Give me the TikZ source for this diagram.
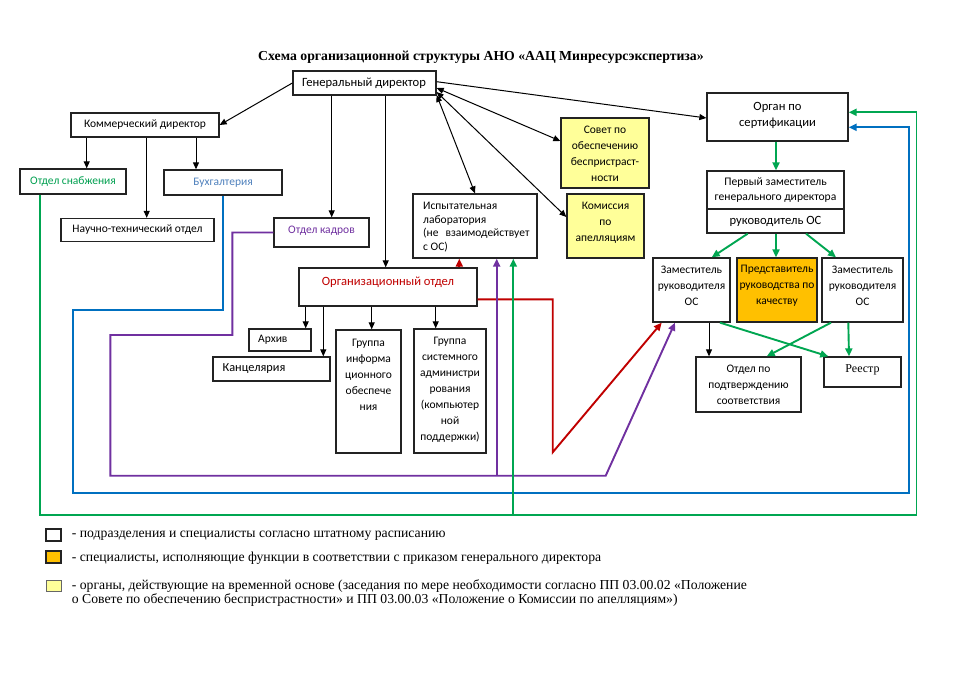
\documentclass[tikz,border=0pt]{standalone}
\usepackage{fontspec}
\setmainfont{Carlito}
\newfontfamily\tms{Liberation Serif}
\usetikzlibrary{arrows.meta}
\definecolor{cgreen}{RGB}{0,166,81}
\definecolor{cblue}{RGB}{0,112,192}
\definecolor{cpurple}{RGB}{112,48,160}
\definecolor{cred}{RGB}{192,0,0}
\definecolor{cyel}{RGB}{255,255,153}
\definecolor{corange}{RGB}{255,192,0}
\definecolor{tblue}{RGB}{79,129,189}
\definecolor{tgreen}{RGB}{0,160,80}
\definecolor{bord}{RGB}{35,35,35}
\newcommand{\bx}[6][]{%
  \node[box,#1,minimum width={(#5-#3)*1pt},minimum height={(#6-#4)*1pt}] (#2) at ({(#3+#5)/2},{(#4+#6)/2}) {};}
\tikzset{
  box/.style={draw=bord, line width=1.3pt, inner sep=0pt, fill=white},
  tip/.style={-{Triangle[length=7pt,width=6pt]}},
  arr/.style={draw=black, line width=1pt, tip},
  darr/.style={draw=black, line width=1pt, {Triangle[length=7pt,width=6pt]}-{Triangle[length=7pt,width=6pt]}},
  gline/.style={draw=cgreen, line width=1.9pt},
  garr/.style={gline, -{Triangle[length=8pt,width=7pt]}},
  bline/.style={draw=cblue, line width=1.9pt},
  barr/.style={bline, -{Triangle[length=8pt,width=7pt]}},
  pline/.style={draw=cpurple, line width=1.9pt},
  parr/.style={pline, -{Triangle[length=8pt,width=7pt]}},
  rline/.style={draw=cred, line width=1.9pt},
  rarr/.style={rline, -{Triangle[length=8pt,width=7pt]}},
  txt/.style={font=\fontsize{11.5}{16}\selectfont, align=center, inner sep=0pt},
  btxt/.style={txt, font=\fontsize{12.6}{16}\selectfont},
  ltxt/.style={font=\tms\fontsize{13.7}{14.5}\selectfont, align=left, inner sep=0pt},
}
\begin{document}
\begin{tikzpicture}[x=1pt,y=-1pt]
\useasboundingbox (0,0) rectangle (960,679);
\fill[white] (0,0) rectangle (960,679);

\node[font=\tms\bfseries\fontsize{13.75}{16}\selectfont, inner sep=0pt] (title) at (481,57) {Схема организационной структуры АНО «ААЦ Минресурсэкспертиза»};

% boxes
\bx{gd}{293}{71}{436}{95}
\bx{kd}{71}{113}{219}{137}
\bx{os}{20}{169}{126}{194}
\bx{bh}{164}{170}{282}{195}
\bx{nto}{61}{218.5}{214}{241.5}
\bx{ok}{274}{218}{369}{247}
\bx{il}{413}{194}{537}{258}
\bx[fill=cyel]{sov}{561}{118}{649}{188}
\bx[fill=cyel]{kom}{567}{194}{644}{258}
\bx{org}{707}{93}{848}{141}
\bx{pz}{707}{171}{844}{233}
\bx{zl}{653}{258}{730}{322}
\bx[fill=corange]{pr}{737}{258}{817}{322}
\bx{zr}{822}{258}{903}{322}
\bx{opc}{696}{357}{801}{412}
\bx{rs}{824}{357}{901}{387}
\bx{oo}{299}{268}{477}{306}
\bx{ar}{249}{329}{311}{351}
\bx{kn}{213}{357}{330}{381}
\bx{gi}{336}{330}{401}{453}
\bx{gs}{414}{329}{486}{453}
\draw[draw=bord, line width=1.3pt] (pz.west |- 0,209) -- (pz.east |- 0,209);

% texts
\node[btxt] (gd-t) at (364,83) {Генеральный директор};
\node[txt] (kd-t) at (145,125) {Коммерческий директор};
\node[txt, text=tgreen] (os-t) at (73,181.5) {Отдел снабжения};
\node[txt, text=tblue] (bh-t) at (223,182.5) {Бухгалтерия};
\node[txt] (nto-t) at (137.5,230) {Научно-технический отдел};
\node[txt, text=cpurple] (ok-t) at (321.5,231) {Отдел кадров};
\node[txt, align=left, anchor=west, font=\fontsize{11.5}{13.7}\selectfont] (il-t) at (423,227) {Испытательная\\лаборатория\\(не\hspace{7pt}взаимодействует\\с ОС)};
\node[txt] (sov-t) at (605,153.5) {Совет по\\обеспечению\\беспристраст-\\ности};
\node[txt] (kom-t) at (605.5,222.5) {Комиссия\\по\\апелляциям};
\node[btxt] (org-t) at (777.5,115) {Орган по\\сертификации};
\node[txt, font=\fontsize{11.6}{15}\selectfont] (pz-t) at (775.5,190) {Первый заместитель\\генерального директора};
\node[btxt] (pz-b) at (775.5,221.5) {руководитель ОС};
\node[txt] (zl-t) at (691.5,286) {Заместитель\\руководителя\\ОС};
\node[txt] (pr-t) at (777,286) {Представитель\\руководства по\\качеству};
\node[txt] (zr-t) at (862.5,286) {Заместитель\\руководителя\\ОС};
\node[txt] (opc-t) at (748.5,384.5) {Отдел по\\подтверждению\\соответствия};
\node[txt, font=\tms\fontsize{12}{14}\selectfont] (rs-t) at (862.5,370) {Реестр};
\node[btxt, text=cred] (oo-t) at (388,282) {Организационный отдел};
\node[txt, anchor=west] (ar-t) at (258,340) {Архив};
\node[txt, anchor=west, font=\fontsize{12.3}{16}\selectfont] (kn-t) at (222.5,369) {Канцелярия};
\node[txt] (gi-t) at (368.5,374.5) {Группа\\информа\\ционного\\обеспече\\ния};
\node[txt] (gs-t) at (450,389.5) {Группа\\системного\\администри\\рования\\(компьютер\\ной\\поддержки)};

% black connectors
\draw[arr] (gd.west) -- (kd.east);
\draw[arr] (86.7,0 |- kd.south) -- (86.7,0 |- os.north);
\draw[arr] (146.7,0 |- kd.south) -- (146.7,0 |- nto.north);
\draw[arr] (196,0 |- kd.south) -- (196,0 |- bh.north);
\draw[arr] (331.7,0 |- gd.south) -- (331.7,0 |- ok.north);
\draw[arr] (385.7,0 |- gd.south) -- (385.7,0 |- oo.north);
\draw[arr] (gd.east |- 0,81.7) -- (org.west |- 0,118);
\draw[darr] (gd.east |- 0,88) -- (sov.west |- 0,141);
\draw[darr] (gd.east |- 0,92) -- (kom.west |- 0,217);
\draw[darr] (gd.east |- 0,95) -- (475,0 |- il.north);
\draw[arr] (305.7,0 |- oo.south) -- (305.7,0 |- ar.north);
\draw[arr] (323.3,0 |- oo.south) -- (323.3,0 |- kn.north);
\draw[arr] (371.7,0 |- oo.south) -- (371.7,0 |- gi.north);
\draw[arr] (435.7,0 |- oo.south) -- (435.7,0 |- gs.north);
\draw[arr] (709,0 |- zl.south) -- (709,0 |- opc.north);

% red
\draw[rarr] (459.3,0 |- oo.north) -- (459.3,0 |- il.south);
\draw[rarr] (oo.east |- 0,299.3) -- (552.7,299.3) -- (552.7,452.3) -- (661.7,0 |- zl.south);
% purple
\draw[parr] (ok.west) -- (232.3,232.5) -- (232.3,335) -- (110.3,335) -- (110.3,475.7) -- (605.7,475.7) -- (675,0 |- zl.south);
\draw[parr] (496.7,475.7) -- (496.7,0 |- il.south);
% blue
\draw[barr] (223.3,0 |- bh.south) -- (223.3,310) -- (73.3,310) -- (73.3,493.3) -- (909.3,493.3) -- (909.3,127.3) -- (org.east |- 0,127.3);
% green
\draw[garr] (40.3,0 |- os.south) -- (40.3,514.7) -- (916.5,514.7) -- (916.5,112.3) -- (org.east |- 0,112.3);
\draw[garr] (513.3,514.7) -- (513.3,0 |- il.south);
\draw[garr] (776,0 |- org.south) -- (776,0 |- pz.north);
\draw[garr] (747.7,0 |- pz.south) -- (711.7,0 |- zl.north);
\draw[garr] (776,0 |- pz.south) -- (776,0 |- pr.north);
\draw[garr] (806,0 |- pz.south) -- (836,0 |- zr.north);
\draw[garr] (720,0 |- zl.south) -- (828.3,0 |- rs.north);
\draw[garr] (831,0 |- zr.south) -- (766.7,0 |- opc.north);
\draw[garr] (848.3,0 |- zr.south) -- (849,0 |- rs.north);

% legend
\node[box, line width=1.2pt, minimum width=15pt, minimum height=12pt] (lg1) at (53.5,535) {};
\node[box, line width=1.4pt, fill=corange, minimum width=15pt, minimum height=12pt] (lg2) at (53.5,557) {};
\node[box, line width=1pt, fill=cyel, draw=black!60, minimum width=15pt, minimum height=11pt] (lg3) at (53.5,585.5) {};
\node[ltxt, anchor=west] (lg1-t) at (71.7,535.5) {- подразделения и специалисты согласно штатному расписанию};
\node[ltxt, anchor=west] (lg2-t) at (71.7,557.8) {- специалисты, исполняющие функции в соответствии с приказом генерального директора};
\node[ltxt, anchor=north west] (lg3-t) at (71.7,579) {- органы, действующие на временной основе (заседания по мере необходимости согласно ПП 03.00.02 «Положение\\о Совете по обеспечению беспристрастности» и ПП 03.00.03 «Положение о Комиссии по апелляциям»)};
\end{tikzpicture}
\end{document}
